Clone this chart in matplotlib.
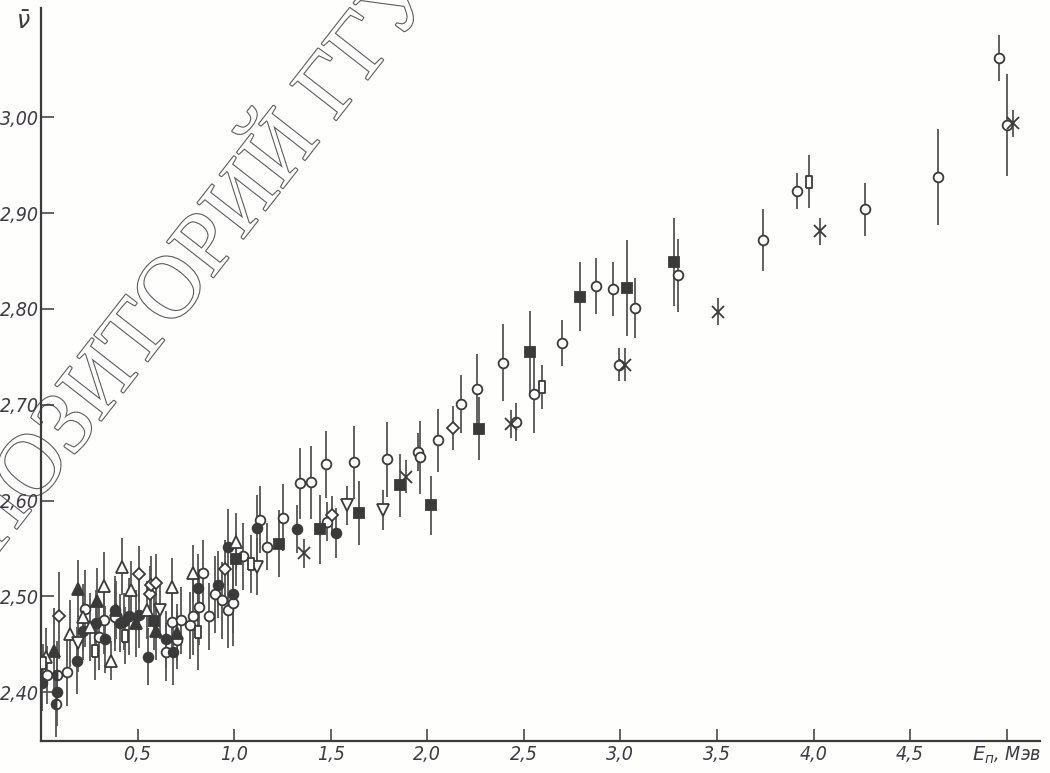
import numpy as np
import matplotlib
matplotlib.use("Agg")
import matplotlib.pyplot as plt
from matplotlib import font_manager
import matplotlib.patheffects as pe

# fonts: a narrow italic face for the book-style labels if one is installed
fonts = font_manager.fontManager.ttflist
names = {f.name for f in fonts}
tick_stretch = "normal"
tick_size = 12.5
if "Liberation Sans Narrow" in names:
    tick_font, tick_size = "Liberation Sans Narrow", 15
else:
    tick_font = "DejaVu Sans"
    if any(f.name == "DejaVu Sans" and f.stretch == "condensed" and f.style != "normal" for f in fonts):
        tick_stretch, tick_size = "condensed", 14
serif_font = "Liberation Serif" if "Liberation Serif" in names else "DejaVu Serif"
plt.rcParams["mathtext.fontset"] = "custom"
plt.rcParams["mathtext.it"] = tick_font + ":italic"
plt.rcParams["mathtext.rm"] = tick_font

# data: (E_n [MeV], nu-bar, error) per marker type
open_circ_E = [0.032, 0.134, 0.226, 0.324, 0.300, 0.381, 0.645, 0.676, 0.702, 0.724,
               0.771, 0.788, 0.819, 0.840, 0.871, 0.900, 0.935, 0.966, 0.995, 1.047,
               1.134, 1.172, 1.252, 1.341, 1.399, 1.475, 1.480, 1.623, 1.791, 1.950,
               1.964, 2.056, 2.177, 2.258, 2.393, 2.462, 2.552, 2.696, 2.874, 2.961,
               3.075, 2.992, 3.296, 3.741, 3.915, 4.268, 4.645, 4.962, 5.000]
open_circ_nu = [2.418, 2.421, 2.487, 2.475, 2.458, 2.478, 2.442, 2.473, 2.454, 2.475,
                2.470, 2.479, 2.489, 2.524, 2.479, 2.502, 2.496, 2.486, 2.493, 2.542,
                2.580, 2.552, 2.582, 2.618, 2.619, 2.638, 2.578, 2.640, 2.643, 2.651,
                2.645, 2.663, 2.701, 2.716, 2.744, 2.682, 2.711, 2.764, 2.824, 2.821,
                2.801, 2.742, 2.835, 2.872, 2.923, 2.904, 2.938, 3.062, 2.992]
open_circ_err = [0.030, 0.035, 0.040, 0.035, 0.035, 0.035, 0.030, 0.030, 0.030, 0.035,
                 0.035, 0.040, 0.040, 0.035, 0.035, 0.040, 0.040, 0.040, 0.045, 0.035,
                 0.035, 0.025, 0.035, 0.037, 0.038, 0.035, 0.020, 0.038, 0.039, 0.020,
                 0.038, 0.033, 0.030, 0.037, 0.040, 0.020, 0.040, 0.024, 0.029, 0.028,
                 0.031, 0.017, 0.038, 0.032, 0.019, 0.028, 0.050, 0.024, 0.053]

full_circ_E = [0.006, 0.082, 0.188, 0.217, 0.286, 0.330, 0.381, 0.410, 0.430, 0.456,
               0.506, 0.554, 0.646, 0.684, 0.811, 0.918, 0.995, 0.969, 1.117, 1.327, 1.528]
full_circ_nu = [2.410, 2.400, 2.433, 2.464, 2.472, 2.455, 2.486, 2.472, 2.474, 2.479,
                2.481, 2.437, 2.455, 2.442, 2.509, 2.512, 2.502, 2.551, 2.571, 2.570, 2.566]
full_circ_err = [0.030, 0.035, 0.035, 0.030, 0.035, 0.035, 0.035, 0.030, 0.030, 0.040,
                 0.035, 0.030, 0.030, 0.035, 0.035, 0.035, 0.040, 0.040, 0.035, 0.025, 0.026]

half_circ_E = [0.082, 0.079]
half_circ_nu = [2.418, 2.388]
half_circ_err = [0.035, 0.035]

full_tri_E = [0.070, 0.191, 0.292, 0.387, 0.494, 0.594, 0.705]
full_tri_nu = [2.443, 2.508, 2.495, 2.486, 2.472, 2.464, 2.462]
full_tri_err = [0.045, 0.030, 0.035, 0.030, 0.035, 0.030, 0.030]

open_tri_E = [0.027, 0.148, 0.217, 0.255, 0.324, 0.361, 0.421, 0.468, 0.551, 0.676, 0.785, 1.008]
open_tri_nu = [2.437, 2.461, 2.478, 2.468, 2.511, 2.433, 2.531, 2.507, 2.486, 2.510, 2.524, 2.557]
open_tri_err = [0.030, 0.035, 0.035, 0.035, 0.035, 0.020, 0.030, 0.030, 0.030, 0.030, 0.030, 0.030]

down_tri_E = [0.191, 0.615, 1.117, 1.587, 1.769]
down_tri_nu = [2.451, 2.486, 2.531, 2.595, 2.590]
down_tri_err = [0.030, 0.030, 0.030, 0.020, 0.021]

diam_E = [0.092, 0.506, 0.563, 0.568, 0.598, 0.952, 1.506, 2.134]
diam_nu = [2.480, 2.523, 2.502, 2.512, 2.514, 2.529, 2.585, 2.676]
diam_err = [0.045, 0.030, 0.030, 0.030, 0.030, 0.030, 0.020, 0.023]

rect_E = [0.013, 0.278, 0.437, 0.811, 1.086, 2.596, 3.979]
rect_nu = [2.430, 2.443, 2.459, 2.463, 2.534, 2.719, 2.933]
rect_err = [0.020, 0.030, 0.030, 0.040, 0.030, 0.023, 0.028]

full_sq_E = [0.584, 1.008, 1.234, 1.445, 1.649, 1.860, 2.018, 2.270, 2.532, 2.791, 3.033, 3.277]
full_sq_nu = [2.474, 2.539, 2.555, 2.570, 2.587, 2.616, 2.595, 2.675, 2.755, 2.813, 2.822, 2.849]
full_sq_err = [0.030, 0.028, 0.035, 0.036, 0.033, 0.033, 0.031, 0.033, 0.043, 0.036, 0.050, 0.046]

star_E = [1.364, 1.890, 2.436, 3.023, 3.507, 4.031, 5.035]
star_nu = [2.545, 2.625, 2.680, 2.742, 2.797, 2.881, 2.994]
star_err = [0.015, 0.017, 0.015, 0.017, 0.014, 0.014, 0.014]

y_ticks = [2.40, 2.50, 2.60, 2.70, 2.80, 2.90, 3.00]
y_labels = ["2,40", "2,50", "2,60", "2,70", "2,80", "2,90", "3,00"]
x_ticks = [0.5, 1.0, 1.5, 2.0, 2.5, 3.0, 3.5, 4.0, 4.5, 5.0]
x_labels = ["0,5", "1,0", "1,5", "2,0", "2,5", "3,0", "3,5", "4,0", "4,5", "$E_{п}$, Мэв"]

ink = "#3a3a3a"
label_ink = "#3e3946"
rect_marker = [(-0.5, -1), (0.5, -1), (0.5, 1), (-0.5, 1), (-0.5, -1)]

fig = plt.figure(figsize=(10.5, 7.73), dpi=100)
fig.patch.set_facecolor("#fefefc")
ax = fig.add_axes([0.039, 0.0414, 0.951, 0.948])
ax.set_facecolor("none")

series = [
    (open_circ_E, open_circ_nu, open_circ_err, dict(marker="o", ms=7, mfc="white")),
    (full_circ_E, full_circ_nu, full_circ_err, dict(marker="o", ms=7, mfc=ink)),
    (half_circ_E, half_circ_nu, half_circ_err, dict(marker="o", ms=7, mfc=ink, fillstyle="left",
                                                      markerfacecoloralt="white")),
    (full_tri_E, full_tri_nu, full_tri_err, dict(marker="^", ms=8, mfc=ink)),
    (open_tri_E, open_tri_nu, open_tri_err, dict(marker="^", ms=8, mfc="white")),
    (down_tri_E, down_tri_nu, down_tri_err, dict(marker="v", ms=8, mfc="white")),
    (diam_E, diam_nu, diam_err, dict(marker="D", ms=6.5, mfc="white")),
    (rect_E, rect_nu, rect_err, dict(marker=rect_marker, ms=9, mfc="white")),
    (full_sq_E, full_sq_nu, full_sq_err, dict(marker="s", ms=6.5, mfc=ink)),
    (star_E, star_nu, star_err, dict(marker="x", ms=8, mfc=ink)),
]

for E, nu, err, style in series:
    ax.errorbar(E, nu, yerr=err, fmt="none", ecolor="#555555", elinewidth=1.3, capsize=0, zorder=2)
for E, nu, err, style in series:
    ax.plot(E, nu, ls="none", mec=ink, mew=1.3, zorder=3, **style)

ax.set_xlim(0, 5.17)
ax.set_ylim(2.349, 3.114)
for side in ("top", "right"):
    ax.spines[side].set_visible(False)
for side in ("left", "bottom"):
    ax.spines[side].set_color(ink)
    ax.spines[side].set_linewidth(1.6)

ax.set_xticks(x_ticks)
ax.set_xticklabels(x_labels)
ax.set_yticks(y_ticks)
ax.set_yticklabels(y_labels)
ax.tick_params(direction="in", length=9, width=1.1, color=ink, labelcolor=label_ink,
               labelsize=tick_size)
ax.tick_params(axis="y", pad=1.5)
ax.tick_params(axis="x", pad=3)
for lab in ax.get_xticklabels() + ax.get_yticklabels():
    lab.set_family(tick_font)
    lab.set_style("italic")
    lab.set_stretch(tick_stretch)

fig.text(0.022, 0.972, r"$\bar{\nu}$", fontsize=17, color=ink, ha="center", va="center")

# diagonal outlined watermark of the scanned page
ax.text(0.158, 0.608, "РЕПОЗИТОРИЙ ГГУ", transform=fig.transFigure, rotation=52,
        rotation_mode="anchor", ha="center", va="center", fontsize=64, family=serif_font,
        color="white", zorder=1,
        path_effects=[pe.withStroke(linewidth=1.6, foreground="#5c5c5c")])

fig.savefig("out.png", dpi=100, facecolor=fig.get_facecolor())
